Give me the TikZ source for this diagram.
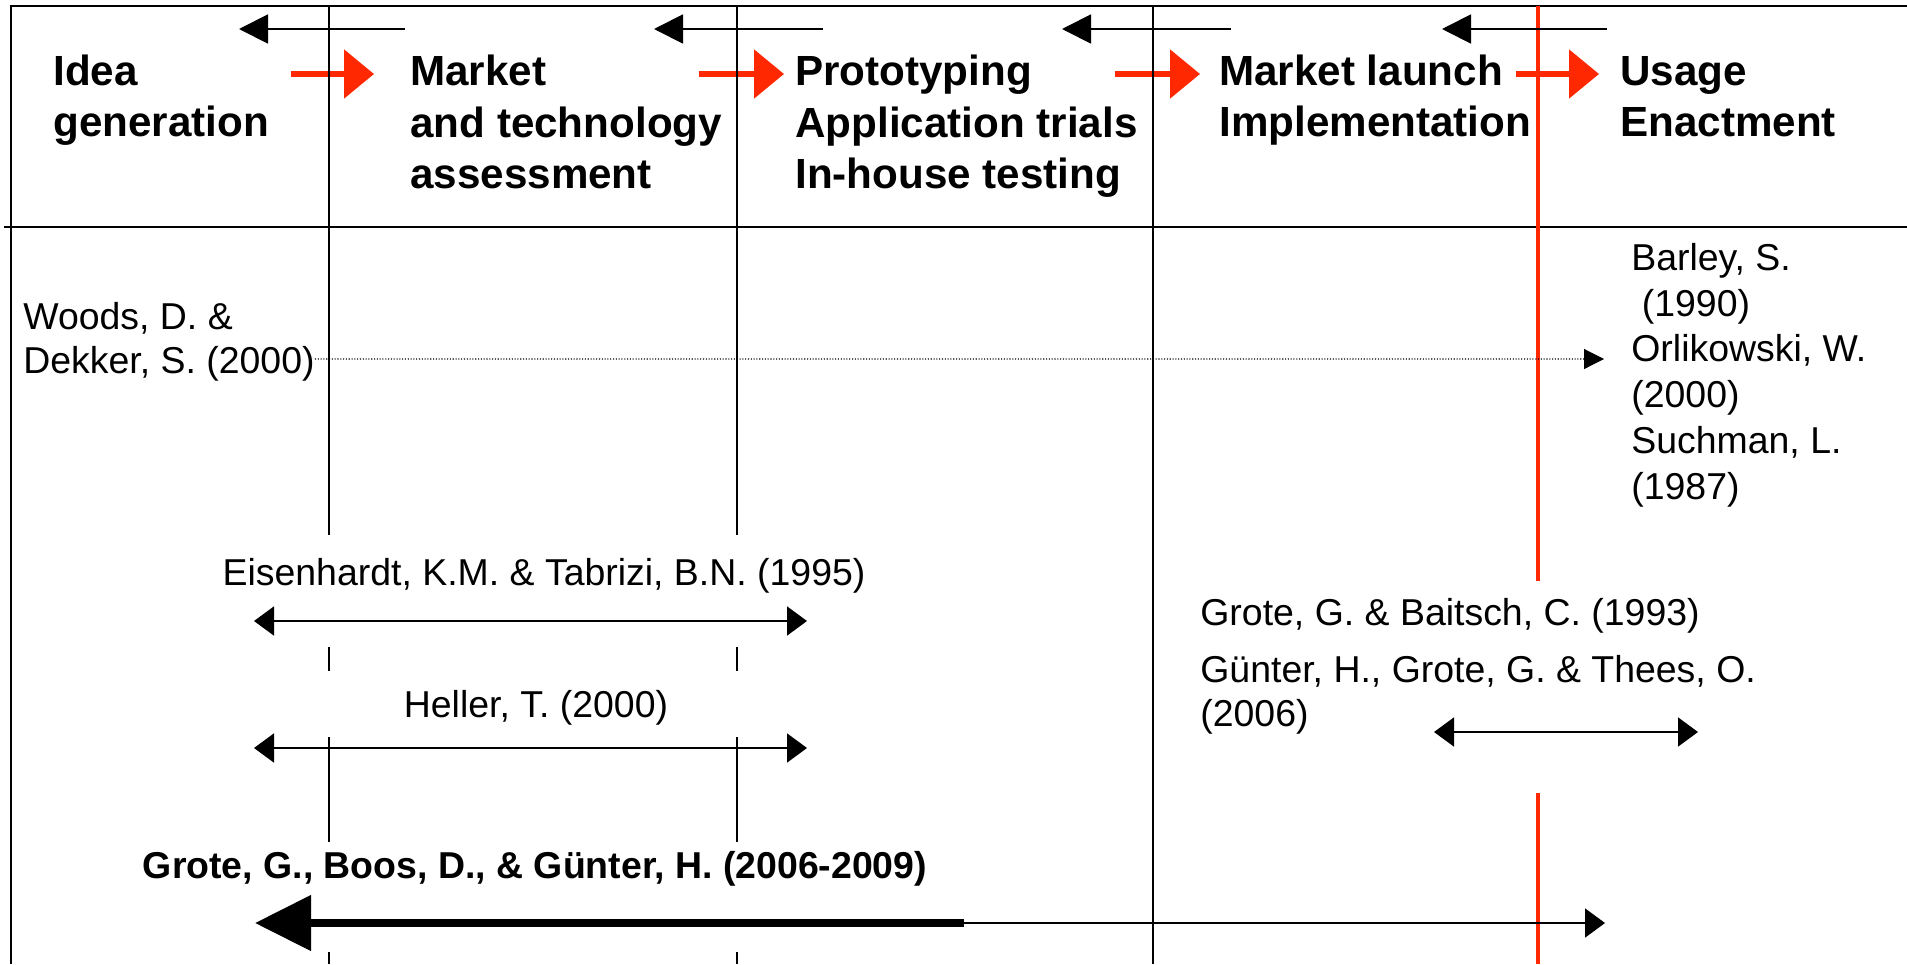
\documentclass[tikz,border=0pt]{standalone}
\usepackage{fontspec}
\setmainfont{Liberation Sans}
\usepackage{tikz}
\usetikzlibrary{arrows.meta, calc}

\definecolor{rojo}{RGB}{255,40,0}

\begin{document}
\begin{tikzpicture}[
    phase/.style={anchor=base west, align=left, inner sep=0pt, font=\fontsize{24}{29.3}\selectfont\bfseries},
    cite/.style={inner sep=0pt, font=\fontsize{21.3}{24.5}\selectfont},
    citebold/.style={inner sep=0pt, font=\fontsize{21.3}{24.5}\selectfont\bfseries},
    back/.style={-{Triangle[length=5.8mm, width=5.8mm]}, line width=1.1pt},
    fwd/.style={-{Triangle[length=6mm, width=9.6mm]}, rojo, line width=3.1pt},
    span/.style={{Triangle[length=4mm, width=5.8mm]}-{Triangle[length=4mm, width=5.8mm]}, line width=1pt},
    grid/.style={line width=0.9pt}]

    \useasboundingbox (0,-19.28) rectangle (38.14,0);

    % frame and header rule
    \draw[grid] (38.14,-0.12) -- (0.22,-0.12) -- (0.22,-19.28);
    \draw[grid] (0.08,-4.54) -- (38.14,-4.54);

    % phase to phase (red) arrows
    \foreach \i/\a/\b in {1/5.82/7.48, 2/13.98/15.68, 3/22.30/24.00, 4/30.32/31.98} {
        \coordinate (fa\i) at (\a,-1.48);
        \coordinate (fb\i) at (\b,-1.48);
        \draw[fwd] (fa\i) -- (fb\i);
    }

    % phase borders
    \foreach \x in {6.58,14.74} {
        \draw[grid] (\x,-0.12) -- (\x,-10.70);
        \draw[grid] (\x,-12.94) -- (\x,-13.42);
        \draw[grid] (\x,-14.74) -- (\x,-16.84);
        \draw[grid] (\x,-19.04) -- (\x,-19.28);
    }
    \draw[grid] (23.06,-0.12) -- (23.06,-19.28);
    \draw[rojo, line width=2.8pt] (30.76,-0.12) -- (30.76,-11.62);
    \draw[rojo, line width=2.8pt] (30.76,-15.86) -- (30.76,-19.28);

    % feedback arrows
    \foreach \i/\a/\b in {1/4.78/8.10, 2/13.08/16.46, 3/21.24/24.62, 4/28.84/32.14} {
        \coordinate (ba\i) at (\a,-0.58);
        \coordinate (bb\i) at (\b,-0.58);
        \draw[back] (bb\i) -- (ba\i);
    }

    \node[phase] (idea) at (1.06,-2.73) {Idea\\generation};
    \node[phase] (assess) at (8.20,-3.77) {Market\\and technology\\assessment};
    \node[phase] (proto) at (15.90,-3.77) {Prototyping\\Application trials\\In-house testing};
    \node[phase] (launch) at (24.38,-2.73) {Market launch\\Implementation};
    \node[phase] (usage) at (32.40,-2.73) {Usage\\Enactment};

    \node[cite, anchor=base west, align=left] (woods) at (0.46,-7.46) {Woods, D. \&\\Dekker, S. (2000)};
    \node[cite, anchor=base west, align=left, font=\fontsize{21.3}{26}\selectfont] (usagerefs) at (32.62,-9.98)
        {Barley, S.\\\hspace*{0.28em}(1990)\\Orlikowski, W.\\(2000)\\Suchman, L.\\(1987)};
    \coordinate (wtip) at (32.08,-7.18);
    \draw[densely dotted, line width=0.6pt, -{Triangle[length=4mm, width=4mm]}] ([yshift=2.8mm]woods.base east) -- (wtip);

    \node[cite, anchor=base] (eisen) at (10.88,-11.70) {Eisenhardt, K.M. \& Tabrizi, B.N. (1995)};
    \coordinate (e1) at (5.08,-12.42);
    \coordinate (e2) at (16.14,-12.42);
    \draw[span] (e1) -- (e2);

    \node[cite, anchor=base] (heller) at (10.72,-14.34) {Heller, T. (2000)};
    \coordinate (h1) at (5.08,-14.96);
    \coordinate (h2) at (16.14,-14.96);
    \draw[span] (h1) -- (h2);

    \node[cite, anchor=base west] (grotebaitsch) at (24.00,-12.50) {Grote, G. \& Baitsch, C. (1993)};
    \node[cite, anchor=base west, align=left] (gunter) at (24.00,-14.52) {Günter, H., Grote, G. \& Thees, O.\\(2006)};
    \coordinate (g1) at (28.68,-14.64);
    \coordinate (g2) at (33.96,-14.64);
    \draw[span] (g1) -- (g2);

    \node[citebold, anchor=base] (ggh) at (10.70,-17.56) {Grote, G., Boos, D., \& Günter, H. (2006-2009)};
    \coordinate (gmid) at (19.28,-18.46);
    \coordinate (gl) at (5.10,-18.46);
    \coordinate (gr) at (32.10,-18.46);
    \draw[line width=4.5pt, -{Triangle[length=11.2mm, width=10.8mm]}] (gmid) -- (gl);
    \draw[line width=1pt, -{Triangle[length=4mm, width=5.8mm]}] (gmid) -- (gr);
\end{tikzpicture}
\end{document}
